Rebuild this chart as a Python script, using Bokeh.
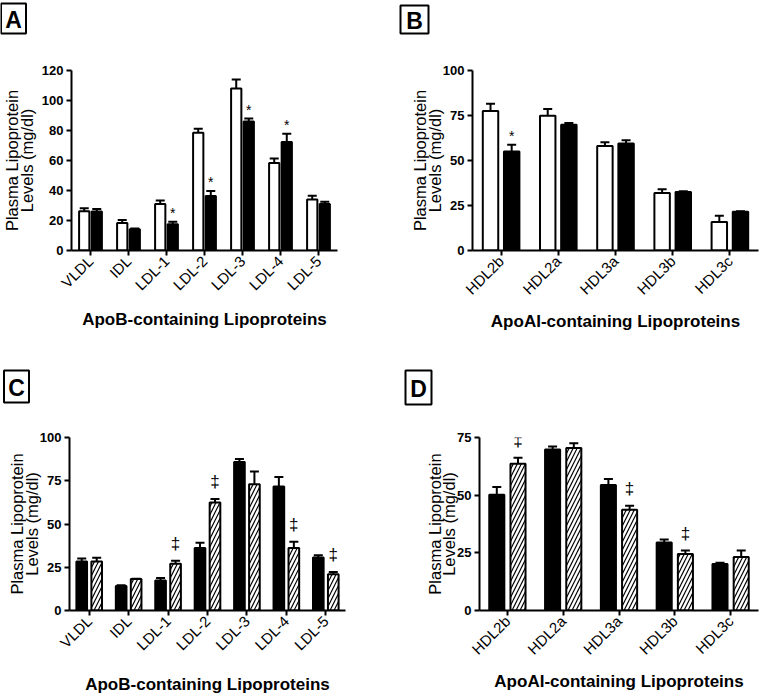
import math
from bokeh.plotting import figure
from bokeh.models import ColumnDataSource, Whisker, TeeHead, LabelSet, FixedTicker, Range1d
from bokeh.layouts import column, row
from bokeh.transform import dodge
from bokeh.core.properties import value
from bokeh.embed import file_html
from bokeh.resources import INLINE

FONT = "Liberation Sans"

# ---------------- data ----------------
apob_cats = ["VLDL", "IDL", "LDL-1", "LDL-2", "LDL-3", "LDL-4", "LDL-5"]
apoa_cats = ["HDL2b", "HDL2a", "HDL3a", "HDL3b", "HDL3c"]

# Panel A (open vs solid)
a_open = [26.2, 18.3, 31.0, 78.5, 108.0, 58.3, 34.0]
a_open_err = [2.0, 2.0, 2.3, 2.6, 6.0, 3.0, 2.5]
a_solid = [26.0, 14.2, 17.5, 36.3, 86.0, 72.3, 31.0]
a_solid_err = [1.7, 0.5, 1.7, 3.3, 2.0, 5.5, 1.5]
a_open_sig = ["", "", "", "", "", "", ""]
a_solid_sig = ["", "", "*", "*", "*", "*", ""]

# Panel B (open vs solid)
b_open = [77.5, 74.8, 58.0, 32.0, 15.8]
b_open_err = [4.0, 3.8, 2.2, 2.0, 3.5]
b_solid = [55.0, 69.8, 59.5, 32.5, 21.5]
b_solid_err = [3.8, 1.0, 1.7, 0.4, 0.3]
b_open_sig = ["", "", "", "", ""]
b_solid_sig = ["*", "", "", "", ""]

# Panel C (solid vs hatched)
c_solid = [28.3, 14.2, 17.3, 36.1, 85.8, 71.7, 30.7]
c_solid_err = [1.8, 0.4, 1.5, 3.1, 1.8, 5.5, 1.2]
c_hatch = [28.3, 18.2, 27.0, 62.4, 73.0, 36.1, 21.0]
c_hatch_err = [2.2, 0.2, 1.8, 2.0, 7.3, 3.7, 1.3]
c_solid_sig = ["", "", "", "", "", "", ""]
c_hatch_sig = ["", "", "\u2021", "\u2021", "", "\u2021", "\u2021"]

# Panel D (solid vs hatched)
d_solid = [50.2, 69.8, 54.4, 29.5, 20.2]
d_solid_err = [3.3, 1.3, 2.6, 1.3, 0.5]
d_hatch = [63.6, 70.5, 43.7, 24.5, 23.2]
d_hatch_err = [2.6, 2.0, 1.7, 1.5, 2.8]
d_solid_sig = ["", "", "", "", ""]
d_hatch_sig = ["\u2021", "", "\u2021", "\u2021", ""]

a_ticks = [0, 20, 40, 60, 80, 100, 120]
b_ticks = [0, 25, 50, 75, 100]
c_ticks = [0, 25, 50, 75, 100]
d_ticks = [0, 25, 50, 75]

panel_letters = ["A", "B", "C", "D"]

YTITLE = "Plasma Lipoprotein\nLevels (mg/dl)"


def header(letter, W, H, cx, cy, bw, bh):
    h = figure(width=W, height=H, x_range=Range1d(0, W), y_range=Range1d(0, H),
               output_backend="svg", toolbar_location=None,
               x_axis_location=None, y_axis_location=None,
               min_border=0, min_border_left=0, min_border_right=0,
               min_border_top=0, min_border_bottom=0)
    h.outline_line_color = None
    h.background_fill_color = "white"
    h.border_fill_color = "white"
    h.grid.visible = False
    src = ColumnDataSource(dict(x=[cx], y=[cy], t=[letter]))
    h.rect(x="x", y="y", width=bw, height=bh, width_units="screen",
           height_units="screen", source=src, fill_color="white",
           line_color="black", line_width=2)
    h.text(x="x", y="y", text="t", source=src, text_font=value(FONT),
           text_font_size="23px", text_font_style="bold",
           text_align="center", text_baseline="middle", text_color="black",
           y_offset=1)
    return h


def panel(cats, series, ticks, xtitle, W, H, bl, br, bt, bb,
          off, bw, ylab_standoff, xlab_standoff, sig_size, sig_off):
    p = figure(width=W, height=H, x_range=cats, y_range=Range1d(0, ticks[-1]),
               output_backend="svg", toolbar_location=None,
               min_border_left=bl, min_border_right=br,
               min_border_top=bt, min_border_bottom=bb)
    p.outline_line_color = None
    p.background_fill_color = "white"
    p.border_fill_color = "white"
    p.xgrid.visible = False
    p.ygrid.visible = False

    for k, s in enumerate(series):
        vals, errs, sig, style = s
        o = -off if k == 0 else off
        src = ColumnDataSource(dict(cat=cats, v=vals,
                                    up=[a + b for a, b in zip(vals, errs)],
                                    sig=sig))
        x = dodge("cat", o, range=p.x_range)
        w = Whisker(source=src, base=x, lower="v", upper="up",
                    dimension="height", line_width=2, line_color="black",
                    upper_head=TeeHead(size=9, line_width=2, line_color="black"),
                    lower_head=None, level="glyph")
        p.add_layout(w)
        if style == "open":
            p.vbar(x=x, top="v", bottom=0, width=bw, source=src,
                   fill_color="white", line_color="black", line_width=2)
        elif style == "solid":
            p.vbar(x=x, top="v", bottom=0, width=bw, source=src,
                   fill_color="black", line_color="black", line_width=2)
        else:
            p.vbar(x=x, top="v", bottom=0, width=bw, source=src,
                   fill_color="white", line_color="black", line_width=2,
                   hatch_pattern="/", hatch_color="black", hatch_weight=1.2,
                   hatch_scale=8)
        ls = LabelSet(x=x, y="up", text="sig", source=src,
                      text_font=value(FONT), text_font_size=value(sig_size),
                      text_align="center", text_baseline="bottom",
                      y_offset=sig_off, text_color="black")
        p.add_layout(ls)

    for ax in (p.xaxis[0], p.yaxis[0]):
        ax.axis_line_width = 2
        ax.axis_line_color = "black"
        ax.major_tick_line_width = 2
        ax.major_tick_line_color = "black"
        ax.major_tick_out = 5
        ax.major_tick_in = 0
        ax.minor_tick_line_color = None
        ax.major_label_text_color = "black"
        ax.major_label_text_font = FONT
        ax.axis_label_text_font = FONT
        ax.axis_label_text_color = "black"
        ax.major_label_standoff = 3

    p.yaxis.ticker = FixedTicker(ticks=ticks)
    p.yaxis.major_label_text_font_size = "13px"
    p.yaxis.major_label_text_font_style = "bold"
    p.yaxis.axis_label = YTITLE
    p.yaxis.axis_label_text_font_size = "16.5px"
    p.yaxis.axis_label_text_font_style = "normal"
    p.yaxis.axis_label_text_line_height = 0.8
    p.yaxis.axis_label_standoff = ylab_standoff

    p.xaxis.major_label_orientation = math.pi / 4
    p.xaxis.major_label_text_font_size = "15px"
    p.xaxis.axis_label = xtitle
    p.xaxis.axis_label_text_font_size = "17px"
    p.xaxis.axis_label_text_font_style = "bold"
    p.xaxis.axis_label_standoff = xlab_standoff
    return p


ha = header(panel_letters[0], 382, 40, 13, 22, 25, 30)
pa = panel(apob_cats,
           [(a_open, a_open_err, a_open_sig, "open"),
            (a_solid, a_solid_err, a_solid_sig, "solid")],
           a_ticks, "ApoB-containing Lipoproteins",
           382, 320, 61, 45, 30, 107, 0.165, 0.27, 3, 8, "14px", 1)

hb = header(panel_letters[1], 377, 40, 32, 21, 28, 28)
pb = panel(apoa_cats,
           [(b_open, b_open_err, b_open_sig, "open"),
            (b_solid, b_solid_err, b_solid_sig, "solid")],
           b_ticks, "ApoAI-containing Lipoproteins",
           377, 320, 90, 1, 19, 110, 0.185, 0.27, -4, 5, "14px", 1)

hc = header(panel_letters[2], 382, 48, 16, 22, 25, 32)
pc = panel(apob_cats,
           [(c_solid, c_solid_err, c_solid_sig, "solid"),
            (c_hatch, c_hatch_err, c_hatch_sig, "hatch")],
           c_ticks, "ApoB-containing Lipoproteins",
           382, 289, 69, 37, 29, 77, 0.19, 0.27, -4, 13, "17px", 8)

hd = header(panel_letters[3], 377, 48, 36, 21, 26, 34)
pd_ = panel(apoa_cats,
            [(d_solid, d_solid_err, d_solid_sig, "solid"),
             (d_hatch, d_hatch_err, d_hatch_sig, "hatch")],
            d_ticks, "ApoAI-containing Lipoproteins",
            377, 289, 97, 1, 18, 80, 0.19, 0.27, -4, 5, "17px", 8)

layout = column(row(ha, hb), row(pa, pb), row(hc, hd), row(pc, pd_))
open("out.html", "w").write(file_html(layout, INLINE))
